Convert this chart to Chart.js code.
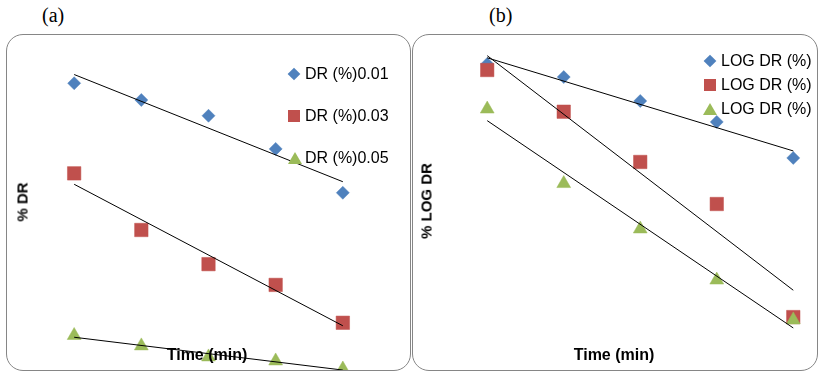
<!DOCTYPE html>
<html>
<head>
<meta charset="utf-8">
<script src="https://cdn.jsdelivr.net/npm/chart.js@4"></script>
<style>
    html, body { margin: 0; padding: 0; background: #fff; }
    body { position: relative; width: 828px; height: 376px; overflow: hidden; font-family: "Liberation Sans", Arial, sans-serif; }
    .panel { position: absolute; top: 34px; height: 337px; box-sizing: border-box; border: 1px solid #868686; border-radius: 17px; overflow: hidden; background: #fff; }
    .panel canvas { position: absolute; left: 0; top: 0; }
    .tag { position: absolute; top: 4px; font: 20px "Liberation Serif", "Times New Roman", serif; color: #000; }
    .ytitle { position: absolute; font-weight: bold; font-size: 15px; white-space: nowrap; transform: translate(-50%, -50%) rotate(-90deg); }
    .xtitle { position: absolute; font-weight: bold; font-size: 16px; white-space: nowrap; transform: translate(-50%, -50%); z-index: 5; }
    .lg-text { position: absolute; font-size: 16px; line-height: 20px; white-space: nowrap; color: #000; }
    .mk { position: absolute; }
    .mk-diamond { width: 9px; height: 9px; background: #4F81BD; transform: translate(-50%, -50%) rotate(45deg); }
    .mk-square { width: 12px; height: 12px; background: #C0504D; transform: translate(-50%, -50%); }
    .mk-triangle { width: 0; height: 0; border-left: 7px solid transparent; border-right: 7px solid transparent; border-bottom: 12px solid #9BBB59; transform: translate(-50%, -50%); }
</style>
</head>
<body>
<div class="tag" style="left:42px;">(a)</div>
<div class="tag" style="left:489px;">(b)</div>

<div class="panel" style="left:6px; width:405px;"><canvas id="chartA" width="403" height="335"></canvas></div>
<div class="panel" style="left:412px; width:406px;"><canvas id="chartB" width="404" height="335"></canvas></div>

<div class="ytitle" style="left:22px; top:202px;">% DR</div>
<div class="ytitle" style="left:426px; top:201px;">% LOG DR</div>
<div class="xtitle" style="left:207px; top:355px;">Time (min)</div>
<div class="xtitle" style="left:614px; top:355px;">Time (min)</div>

<!-- legend (a) -->
<div class="mk mk-diamond" style="left:294px; top:74px;"></div>
<div class="lg-text" style="left:305px; top:64px;">DR (%)0.01</div>
<div class="mk mk-square" style="left:294px; top:116px;"></div>
<div class="lg-text" style="left:305px; top:106px;">DR (%)0.03</div>
<div class="mk mk-triangle" style="left:295px; top:158px;"></div>
<div class="lg-text" style="left:305px; top:148px;">DR (%)0.05</div>

<!-- legend (b) -->
<div class="mk mk-diamond" style="left:710px; top:61px;"></div>
<div class="lg-text" style="left:721px; top:51px;">LOG DR (%)</div>
<div class="mk mk-square" style="left:710px; top:85px;"></div>
<div class="lg-text" style="left:721px; top:75px;">LOG DR (%)</div>
<div class="mk mk-triangle" style="left:710px; top:109px;"></div>
<div class="lg-text" style="left:721px; top:99px;">LOG DR (%)</div>

<script>
// sampling times (min)
var timeMin = [10, 20, 30, 40, 50];

// (a) % DR for the three concentrations
var dr001 = [85.6, 80.6, 75.9, 66.0, 52.9];
var dr003 = [58.7, 41.8, 31.6, 25.4, 14.1];
var dr005 = [10.3, 7.2, 3.9, 2.7, 0.3];

// (b) LOG DR (%)
var logDr001 = [1.827, 1.749, 1.606, 1.481, 1.266];
var logDr003 = [1.791, 1.542, 1.242, 0.991, 0.316];
var logDr005 = [1.558, 1.113, 0.842, 0.537, 0.299];

var seriesColors = ['#4F81BD', '#C0504D', '#9BBB59'];

function toPoints(xs, ys) {
    return xs.map(function (x, i) { return { x: x, y: ys[i] }; });
}

// linear (least squares) trendline, first to last x
function trendLine(xs, ys) {
    var n = xs.length, sx = 0, sy = 0, sxy = 0, sxx = 0;
    for (var i = 0; i < n; i++) {
        sx += xs[i]; sy += ys[i]; sxy += xs[i] * ys[i]; sxx += xs[i] * xs[i];
    }
    var b = (n * sxy - sx * sy) / (n * sxx - sx * sx);
    var a = (sy - b * sx) / n;
    return [
        { x: xs[0], y: a + b * xs[0] },
        { x: xs[n - 1], y: a + b * xs[n - 1] }
    ];
}

function markerSet(ys, style, color, order) {
    var radius = { rectRot: 6.5, rect: 9.5, triangle: 8 }[style];
    return {
        data: toPoints(timeMin, ys),
        pointStyle: style,
        pointRadius: radius,
        pointHoverRadius: radius,
        pointBackgroundColor: color,
        pointBorderColor: color,
        pointBorderWidth: 0.5,
        showLine: false,
        clip: false,
        order: order
    };
}

function lineSet(ys) {
    return {
        data: trendLine(timeMin, ys),
        showLine: true,
        borderColor: '#000',
        borderWidth: 1,
        pointRadius: 0,
        pointHoverRadius: 0,
        clip: false,
        order: 0
    };
}

function buildChart(id, series, xRange, yRange) {
    var datasets = [];
    var styles = ['rectRot', 'rect', 'triangle'];
    series.forEach(function (ys, i) {
        datasets.push(markerSet(ys, styles[i], seriesColors[i], 3 - i));
    });
    series.forEach(function (ys) { datasets.push(lineSet(ys)); });

    new Chart(document.getElementById(id).getContext('2d'), {
        type: 'scatter',
        data: { datasets: datasets },
        options: {
            responsive: false,
            animation: false,
            layout: { padding: 0, autoPadding: false },
            plugins: { legend: { display: false }, tooltip: { enabled: false } },
            scales: {
                x: { type: 'linear', min: xRange[0], max: xRange[1], display: false },
                y: { type: 'linear', min: yRange[0], max: yRange[1], display: false }
            }
        }
    });
}

buildChart('chartA', [dr001, dr003, dr005], [0, 60], [0, 100]);
buildChart('chartB', [logDr001, logDr003, logDr005], [0.3, 53.1], [0, 2]);
</script>
</body>
</html>
